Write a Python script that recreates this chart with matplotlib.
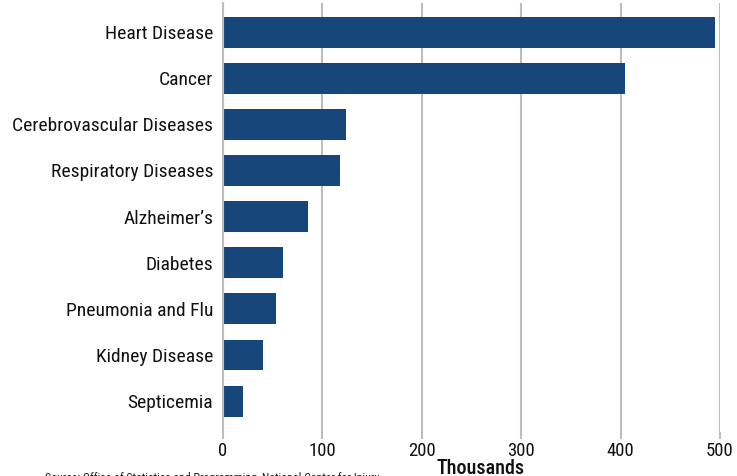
import matplotlib
matplotlib.use("Agg")
import matplotlib.pyplot as plt

plt.rcParams['font.family'] = ['Roboto Condensed', 'DejaVu Sans']

causes = ["Heart Disease", "Cancer", "Cerebrovascular Diseases", "Respiratory Diseases",
          "Alzheimer\u2019s", "Diabetes", "Pneumonia and Flu", "Kidney Disease", "Septicemia"]
deaths_thousands = [495, 404, 124, 118, 86, 60, 53, 40, 20]
x_ticks = [0, 100, 200, 300, 400, 500]

W, H = 737, 476
fig = plt.figure(figsize=(W / 100, H / 100), dpi=100)
ax = fig.add_axes([223 / W, 1 - 432 / H, (720 - 223) / W, (432 - 3) / H])

bar_color = "#17477a"
grid_color = "#bdbdbd"

ax.barh(range(len(causes)), deaths_thousands, height=0.67, color=bar_color, zorder=3)
ax.set_ylim(len(causes) - 1 + 0.67, -0.63)
ax.set_xlim(0, 500)
ax.set_yticks(range(len(causes)))
ax.set_yticklabels(causes, fontsize=14, color="#111111")
ax.set_xticks(x_ticks)
ax.set_xticklabels([str(t) for t in x_ticks], fontsize=13.5, color="#111111")

ax.grid(axis="x", color=grid_color, linewidth=1.5, zorder=0)
ax.tick_params(axis="y", length=0, pad=7)
ax.tick_params(axis="x", length=5, width=1.5, color=grid_color, pad=2)
for side in ["top", "right", "bottom"]:
    ax.spines[side].set_visible(False)
ax.spines["left"].set_color(grid_color)
ax.spines["left"].set_linewidth(1.5)
ax.spines["left"].set_zorder(4)

fig.text(481 / W, 1 - 468 / H, "Thousands", ha="center", va="center",
         fontsize=14.5, fontweight="medium", color="#111111")
fig.text(45 / W, 1 - 472 / H, "Source: Office of Statistics and Programming, National Center for Injury",
         ha="left", va="top", fontsize=8.6, color="#222222")

fig.savefig("out.png", dpi=100)
